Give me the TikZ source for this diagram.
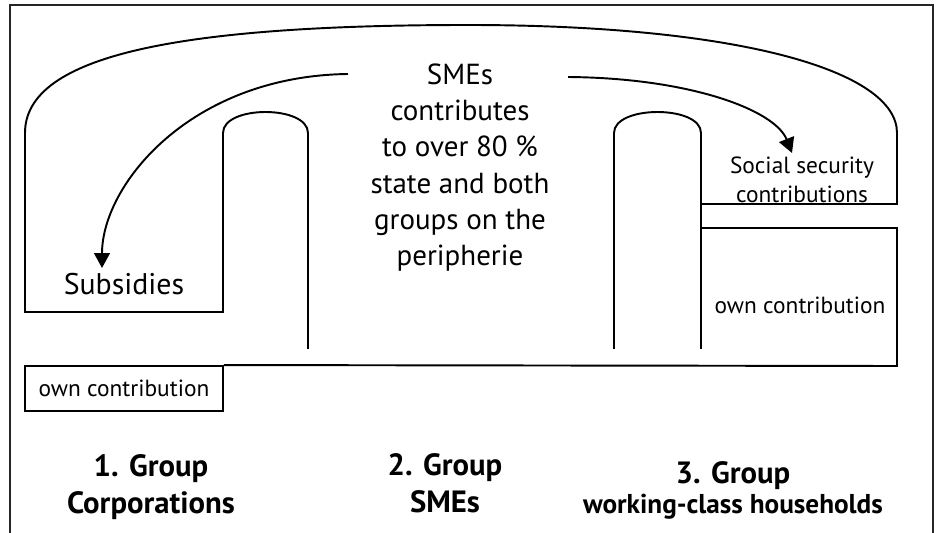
\documentclass[tikz,border=0pt]{standalone}
\usepackage{fontspec}
\setmainfont{PT Sans}
\usetikzlibrary{arrows.meta, positioning}

\begin{document}
\begin{tikzpicture}[
    x=0.02cm, y=-0.02cm,
    wall/.style={draw, line width=1.1pt},
    frame/.style={draw=black!85, line width=0.6pt},
    note/.style={align=center, inner sep=0pt, font=\fontsize{16.5}{20.6}\selectfont},
    small/.style={align=center, inner sep=0pt, font=\fontsize{13.3}{16.5}\selectfont},
    group/.style={align=center, inner sep=0pt, font=\bfseries\fontsize{17.5}{21}\selectfont},
    box/.style={rectangle, draw, line width=1.1pt, minimum width=3.96cm, minimum height=0.9cm, inner sep=0pt, font=\fontsize{13.3}{16.5}\selectfont},
    arrow/.style={-{Triangle[length=8.5pt, width=9pt]}, line width=1.1pt}
]
    \useasboundingbox (0,0) rectangle (936,533);
    \draw[frame] (10,533) -- (10,5) -- (933,5) -- (933,533);

    % outer loop with the two pillars
    \draw[wall] (308,349) -- (308,133) .. controls (308,105) and (223,105) .. (223,133)
        -- (223,312) -- (25,312) -- (25,133)
        .. controls (25,55) and (180,25) .. (468,25)
        .. controls (736,25) and (897,70) .. (897,133)
        -- (897,204) -- (701,204) -- (701,133)
        .. controls (701,105) and (614,105) .. (614,133) -- (614,349);
    \draw[wall] (701,204) -- (701,349);

    \node[box] (own1) at (124,388.5) {own contribution};
    \draw[wall] (own1.north east) -- (897,366) -- (897,228) -- (701,228);

    \node[note] (smes) at (460,167.5) {SMEs\\contributes\\to over 80 \%\\state and both\\groups on the\\peripherie};
    \node[note, font=\fontsize{17}{20}\selectfont] (subsidies) at (124,284) {Subsidies};
    \node[small] (social) at (802,180) {Social security\\contributions};
    \node[small, anchor=base] (own3) at (800,314) {own contribution};

    \node[group] (group1) at (151,487) {1. Group\\Corporations};
    \node[group] (group2) at (445,483.5) {2. Group\\SMEs};
    \node[group, anchor=base] (group3) at (733,483) {3. Group};
    \node[group, anchor=base, font=\bfseries\fontsize{15.5}{18}\selectfont] (households) at (733,513) {working-class households};

    \coordinate (fromL) at (348,74);
    \coordinate (fromR) at (568,77);
    \coordinate (toSub) at (102,268);
    \coordinate (toSoc) at (792,153);
    \draw[arrow] (fromL) .. controls (190,76) and (102,185) .. (toSub);
    \draw[arrow] (fromR) .. controls (690,78) and (775,110) .. (toSoc);
\end{tikzpicture}
\end{document}
